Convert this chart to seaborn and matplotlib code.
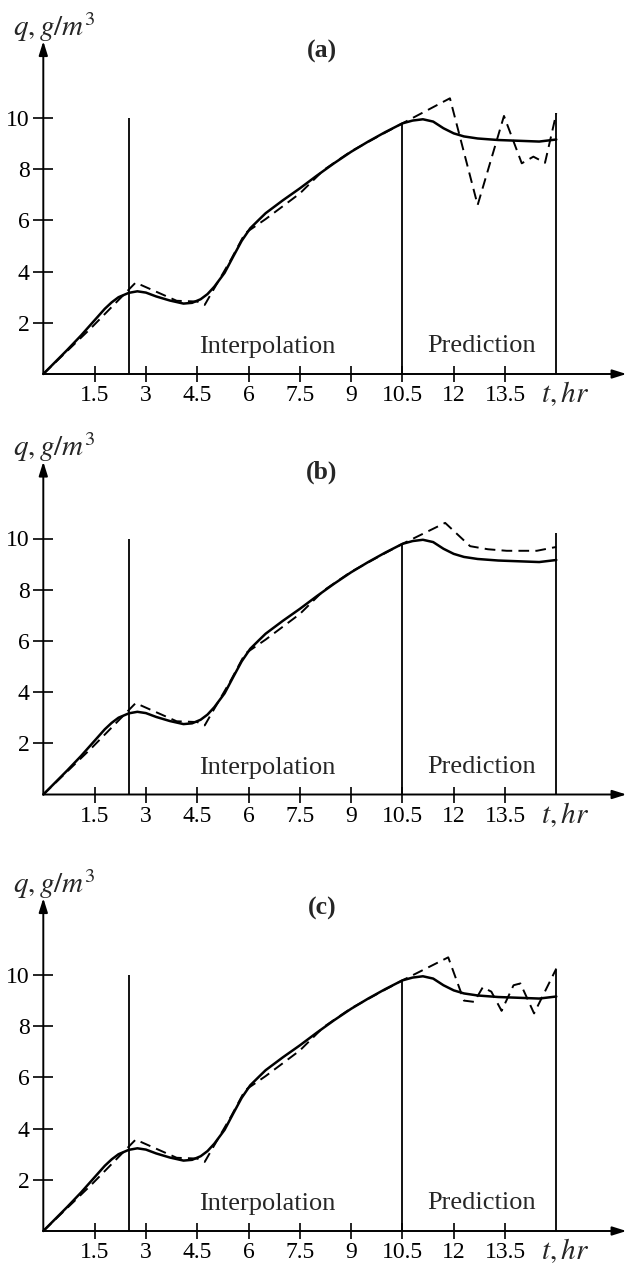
import matplotlib
matplotlib.use("Agg")
import matplotlib.pyplot as plt
import numpy as np
import pandas as pd
import seaborn as sns

# ---------------- data ----------------
panel_titles = ["(a)", "(b)", "(c)"]
xtick_values = [1.5, 3, 4.5, 6, 7.5, 9, 10.5, 12, 13.5]
xtick_labels = ["1.5", "3", "4.5", "6", "7.5", "9", "10.5", "12", "13.5"]
ytick_values = [2, 4, 6, 8, 10]
ytick_labels = ["2", "4", "6", "8", "10"]

# solid curve (same in all panels)
t_solid = [0, 0.35, 0.7, 1.1, 1.5, 1.8, 2.0, 2.2, 2.5, 2.75, 3.0, 3.3, 3.7,
           4.1, 4.35, 4.6, 4.8, 5.0, 5.3, 5.55, 5.8, 6.05, 6.3, 6.5, 7.0,
           7.5, 8.0, 8.5, 9.0, 9.5, 10.0, 10.5, 10.8, 11.1, 11.4, 11.7,
           12.0, 12.3, 12.7, 13.3, 14.1, 14.5, 15.0]
q_solid = [0, 0.47, 0.94, 1.5, 2.1, 2.55, 2.8, 3.0, 3.17, 3.23, 3.18, 3.03,
           2.87, 2.75, 2.78, 2.92, 3.12, 3.41, 3.95, 4.58, 5.2, 5.69, 6.02,
           6.28, 6.78, 7.25, 7.75, 8.23, 8.68, 9.08, 9.45, 9.79, 9.9, 9.95,
           9.86, 9.6, 9.4, 9.28, 9.2, 9.14, 9.1, 9.08, 9.16]

# dashed curve, interpolation part (same in all panels)
t_dash_interp = [0, 1.4, 2.7, 3.9, 4.5, 4.72, 5.0, 5.5, 5.9, 6.5, 7.5, 8.2,
                 9.0, 9.75, 10.5]
q_dash_interp = [0, 1.8, 3.57, 2.86, 2.83, 2.7, 3.35, 4.5, 5.5, 6.05, 7.05,
                 7.97, 8.7, 9.25, 9.79]

# dashed curve, prediction part, per panel
t_pred_a = [10.5, 11.89, 12.7, 13.47, 13.99, 14.33, 14.67, 15.0]
q_pred_a = [9.79, 10.77, 6.6, 10.08, 8.23, 8.49, 8.25, 10.18]
t_pred_b = [10.5, 11.75, 12.48, 13.0, 13.55, 14.43, 15.0]
q_pred_b = [9.79, 10.61, 9.7, 9.58, 9.52, 9.52, 9.67]
t_pred_c = [10.5, 11.84, 12.3, 12.6, 12.85, 13.1, 13.4, 13.75, 13.95, 14.35,
            15.0]
q_pred_c = [9.79, 10.69, 9.0, 8.95, 9.52, 9.35, 8.6, 9.6, 9.67, 8.5, 10.25]

# vertical separators: positions and their tops
vline_t = [2.5, 10.5, 15.0]
vline_top = [10.0, 9.8, 10.2]

region_labels = ["Interpolation", "Prediction"]
region_t = [6.54, 12.81]
region_q = [1.05, 1.09]

# ---------------- style ----------------
sns.set_theme(style="white")
plt.rcParams["font.family"] = ["Liberation Serif", "DejaVu Serif"]
plt.rcParams["mathtext.fontset"] = "stix"

W, H = 629, 1263
fig = plt.figure(figsize=(W / 100, H / 100), dpi=100)

px_t = 34.2      # pixels per hour
px_q = 25.6      # pixels per g/m^3
x0_px = 43.3
xmax, ymax = 17.05, 13.0
axis_y_px = [374, 794.5, 1231]

preds = [(t_pred_a, q_pred_a), (t_pred_b, q_pred_b), (t_pred_c, q_pred_c)]

for i in range(3):
    ax = fig.add_axes([x0_px / W, (H - axis_y_px[i]) / H,
                       xmax * px_t / W, ymax * px_q / H])
    ax.set_xlim(0, xmax)
    ax.set_ylim(0, ymax)
    ax.patch.set_alpha(0)
    for s in ax.spines.values():
        s.set_visible(False)

    ax.set_xticks(xtick_values)
    ax.set_xticklabels(xtick_labels)
    ax.set_yticks(ytick_values)
    ax.set_yticklabels(ytick_labels)
    ax.tick_params(axis="x", bottom=True, direction="inout", length=11,
                   width=1.2, pad=2.5, labelsize=17, color="black",
                   labelcolor="black")
    ax.tick_params(axis="y", left=True, direction="inout", length=14,
                   width=1.2, pad=3, labelsize=17, color="black",
                   labelcolor="black")

    # axes with arrows
    arrow = dict(arrowstyle="-|>,head_length=0.7,head_width=0.22",
                 color="black", lw=1.4, shrinkA=0, shrinkB=0)
    ax.annotate("", xy=(xmax, 0), xytext=(0, 0), arrowprops=arrow,
                annotation_clip=False)
    ax.annotate("", xy=(0, ymax), xytext=(0, 0), arrowprops=arrow,
                annotation_clip=False)

    # vertical separators
    ax.vlines(vline_t, [0] * len(vline_t), vline_top, color="black", lw=1.3)

    # curves
    df_solid = pd.DataFrame({"t": t_solid, "q": q_solid})
    sns.lineplot(data=df_solid, x="t", y="q", ax=ax, color="black", lw=1.8,
                 sort=False, estimator=None, clip_on=False)
    tp, qp = preds[i]
    df_dash = pd.DataFrame({"t": t_dash_interp + tp[1:],
                            "q": q_dash_interp + qp[1:]})
    sns.lineplot(data=df_dash, x="t", y="q", ax=ax, color="black", lw=1.4,
                 sort=False, estimator=None, linestyle=(0, (5.5, 3.2)),
                 clip_on=False)
    ax.set_xlabel("")
    ax.set_ylabel("")

    # texts
    for lab, tx, qy in zip(region_labels, region_t, region_q):
        ax.text(tx, qy, lab, ha="center", va="center", fontsize=19)
    ax.text(8.15, 12.58, panel_titles[i], ha="center", va="center",
            fontsize=18.5, fontweight="bold")
    ax.text(0.33, 13.55, r"$q, g/m^3$", ha="center", va="center",
            fontsize=21, clip_on=False)
    ax.text(15.25, -0.78, r"$t, hr$", ha="center", va="center",
            fontsize=21, clip_on=False)

fig.savefig("out.png", dpi=100)
